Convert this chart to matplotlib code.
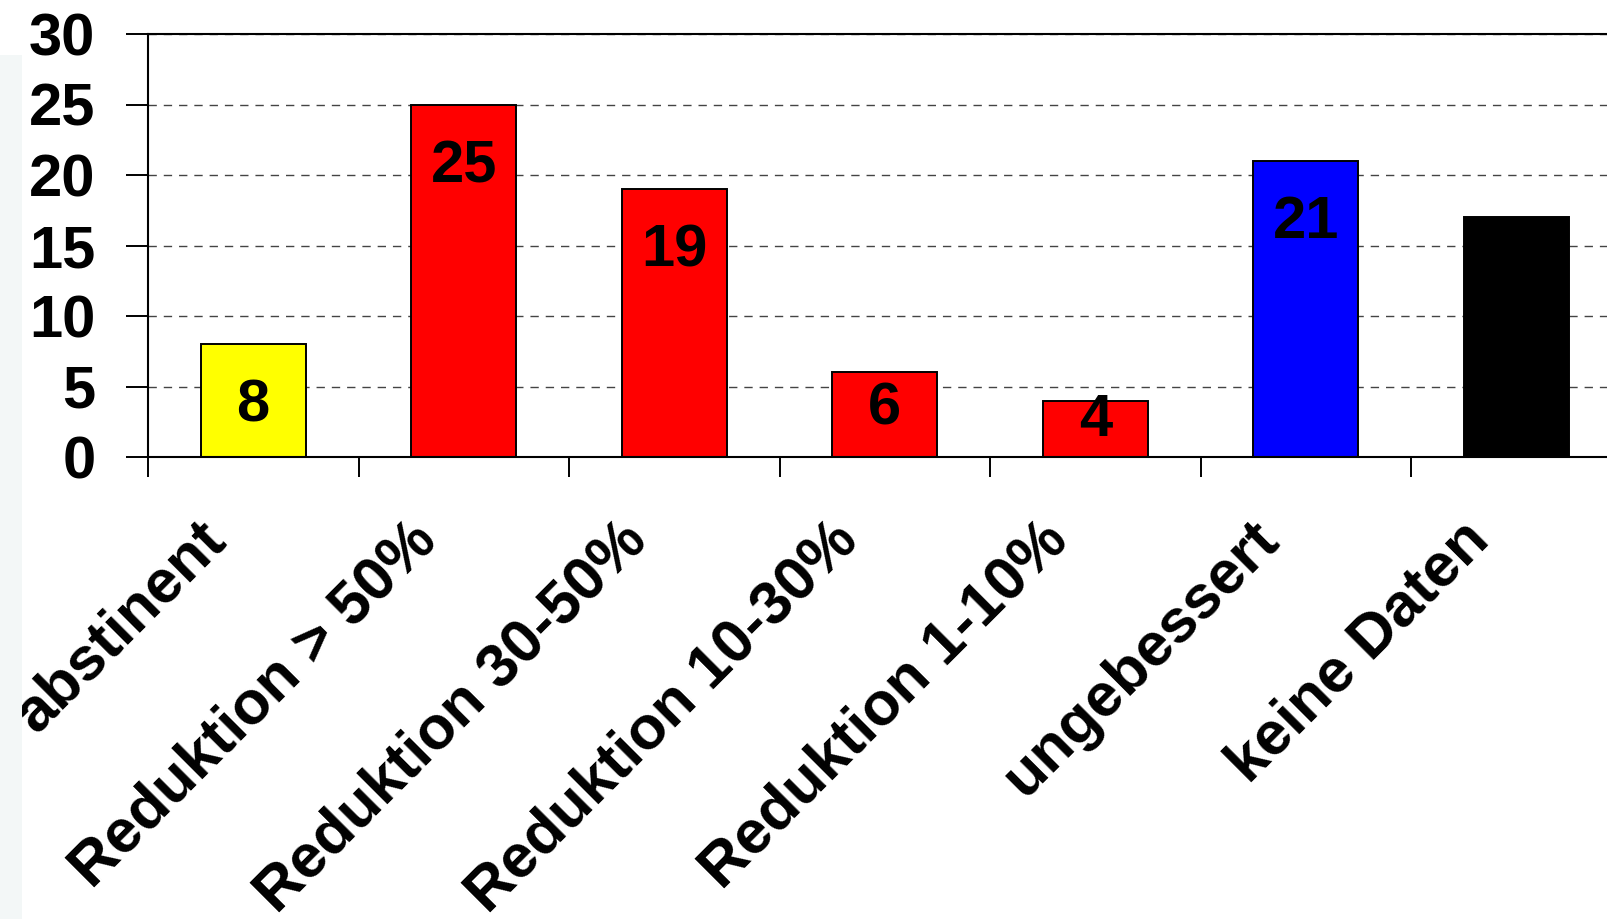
import matplotlib
matplotlib.use("Agg")
import matplotlib.pyplot as plt
from matplotlib.patches import Rectangle
from matplotlib.transforms import ScaledTranslation

categories = ["abstinent", "Reduktion > 50%", "Reduktion 30-50%", "Reduktion 10-30%",
              "Reduktion 1-10%", "ungebessert", "keine Daten"]
values = [8, 25, 19, 6, 4, 21, 17]
colors = ["#ffff00", "#ff0000", "#ff0000", "#ff0000", "#ff0000", "#0000ff", "#000000"]
show_label = [True, True, True, True, True, True, False]
yticks = [0, 5, 10, 15, 20, 25, 30]

plt.rcParams['font.family'] = ['Liberation Sans', 'DejaVu Sans']
plt.rcParams['font.weight'] = 'bold'
plt.rcParams['lines.scale_dashes'] = False

W, H = 1607, 919
fig = plt.figure(figsize=(W / 100, H / 100), dpi=100)
# faint strip at the left border of the slide
fig.patches.append(Rectangle((0, 0), 22 / W, (H - 55) / H, transform=fig.transFigure,
                             facecolor="#f3f7f7", edgecolor="none", zorder=0))

# axes run past the right edge of the picture
ax = fig.add_axes([148 / W, 1 - 457 / H, 1473.5 / W, 423 / H])
ax.set_facecolor("none")

x = list(range(len(values)))
ax.bar(x, values, width=0.5, color=colors, edgecolor="black", linewidth=1.4, zorder=2)

for xi, v, show in zip(x, values, show_label):
    if not show:
        continue
    base = v - 5.5 if v >= 8 else 0.42 * v - 0.2
    ax.text(xi, base, str(v), ha="center", va="baseline", fontsize=43,
            fontweight="bold", color="black", zorder=3)

ax.set_xlim(-0.5, len(values) - 0.5)
ax.set_ylim(0, 30)
ax.set_yticks(yticks)
ax.set_yticklabels([str(t) for t in yticks])

ax.set_xticks(x)
ax.set_xticklabels(categories, rotation=45, ha="right", va="top", fontsize=44)
ax.set_xticks([i - 0.5 for i in range(len(values) + 1)], minor=True)

ax.tick_params(axis="x", which="major", length=0, pad=39)
ax.tick_params(axis="x", which="minor", length=14.4, width=1.4, direction="out")
ax.tick_params(axis="y", length=15.8, width=1.4, direction="out", pad=22, labelsize=43)

shift = ScaledTranslation(-16 / 100, 0, fig.dpi_scale_trans)
for lab in ax.get_xticklabels():
    lab.set_transform(lab.get_transform() + shift)

ax.set_axisbelow(True)
ax.yaxis.grid(True, color="#444444", linewidth=1.0, linestyle=(0, (6, 5)))

for side in ["left", "bottom", "top"]:
    ax.spines[side].set_linewidth(1.5)
ax.spines["right"].set_visible(False)

fig.savefig("out.png", dpi=100)
